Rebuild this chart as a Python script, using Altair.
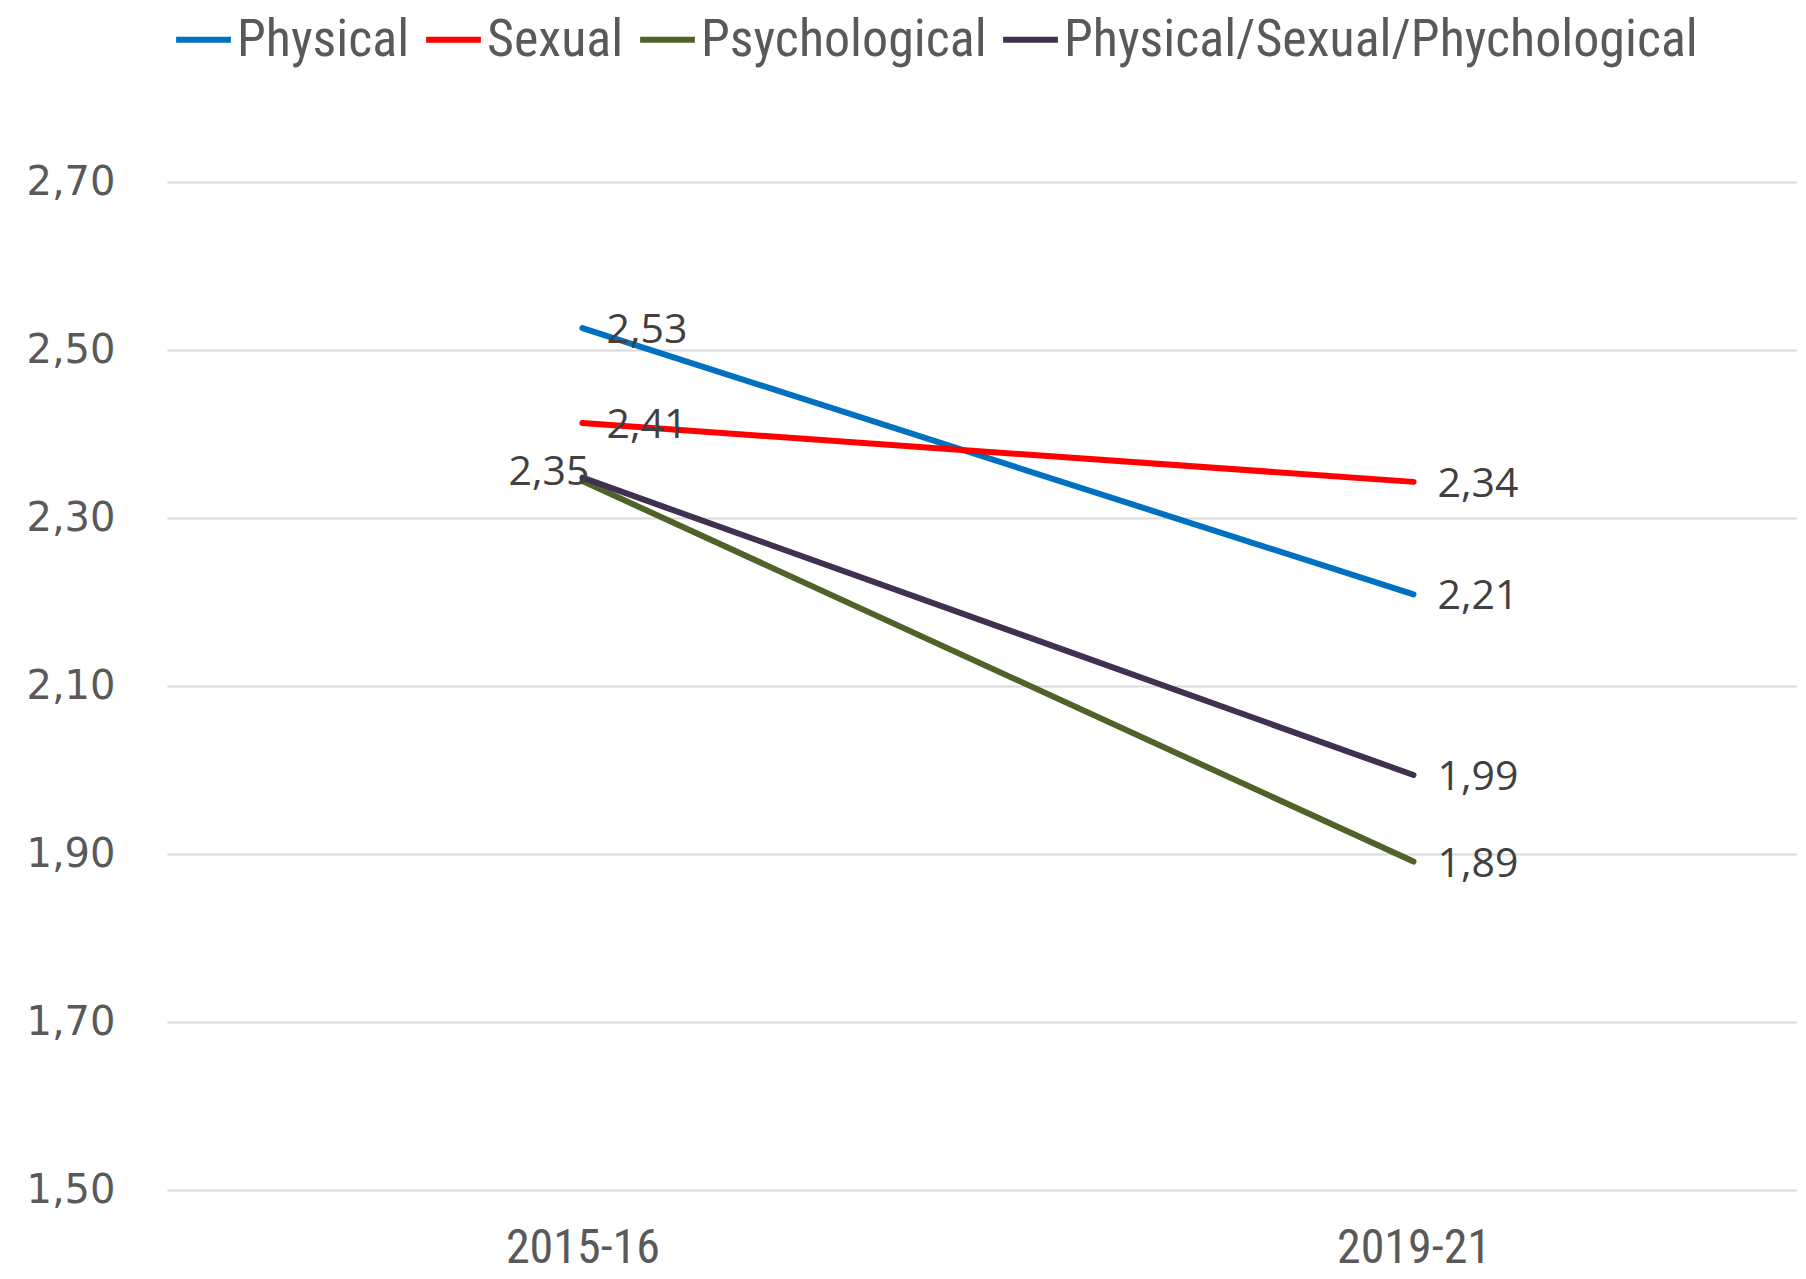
import altair as alt
import pandas as pd

periods = ["2015-16", "2019-21"]
series_names = ["Physical", "Sexual", "Psychological", "Physical/Sexual/Phychological"]
physical = [2.526, 2.209]
sexual = [2.413, 2.343]
psychological = [2.344, 1.891]
combined = [2.348, 1.994]
colors = ["#0070C0", "#FF0000", "#4F6228", "#403151"]
y_ticks = [1.5, 1.7, 1.9, 2.1, 2.3, 2.5, 2.7]

rows = []
for name, vals in zip(series_names, [physical, sexual, psychological, combined]):
    for p, v in zip(periods, vals):
        rows.append({"period": p, "series": name, "value": v})
df = pd.DataFrame(rows)

narrow = "Roboto Condensed, Liberation Sans Narrow, Liberation Sans"

x_enc = alt.X("period:O", sort=periods,
              scale=alt.Scale(type="point", padding=0.4807, align=0.52),
              axis=alt.Axis(title=None, labelAngle=0, labelFont=narrow, labelFontSize=48,
                            labelColor="#595959", labelPadding=58, labelBaseline="middle",
                            domain=False, ticks=False, grid=False))
y_enc = alt.Y("value:Q",
              scale=alt.Scale(domain=[1.5, 2.7], nice=False, zero=False),
              axis=alt.Axis(title=None, values=y_ticks, labelFont="DejaVu Sans", labelFontSize=40,
                            labelColor="#595959", labelPadding=52, domain=False, ticks=False,
                            grid=True, gridColor="#d9d9d9", gridWidth=2,
                            labelExpr="replace(format(datum.value, '.2f'), '.', ',')"))

color_enc = alt.Color("series:N", sort=series_names,
                      scale=alt.Scale(domain=series_names, range=colors),
                      legend=alt.Legend(title=None, orient="none", direction="horizontal",
                                        legendX=6, legendY=-173, columns=4,
                                        symbolType="stroke", symbolSize=3000, symbolStrokeWidth=6,
                                        labelFont=narrow, labelFontSize=52, labelColor="#595959",
                                        labelOffset=3, columnPadding=4, padding=0,
                                        labelLimit=1000))

base = alt.Chart(df)

lines = base.mark_line(strokeWidth=6, strokeCap="round").encode(
    x=x_enc, y=y_enc, color=color_enc, detail="series:N"
)

label_expr = "replace(format(datum.value, '.2f'), '.', ',')"

right_labels = base.transform_filter(
    "datum.period == '2019-21' || datum.series == 'Physical' || datum.series == 'Sexual'"
).transform_calculate(lbl=label_expr).mark_text(
    align="left", baseline="middle", dx=24, dy=3, font="Open Sans", fontSize=41, color="#404040"
).encode(x=alt.X("period:O", sort=periods), y="value:Q", text="lbl:N")

left_labels = base.transform_filter(
    "datum.period == '2015-16' && datum.series == 'Physical/Sexual/Phychological'"
).transform_calculate(lbl=label_expr).mark_text(
    align="right", baseline="middle", dx=7, dy=-5, font="Open Sans", fontSize=41, color="#404040"
).encode(x=alt.X("period:O", sort=periods), y="value:Q", text="lbl:N")

chart = alt.layer(lines, right_labels, left_labels).properties(
    width=1630, height=1008,
    autosize=alt.AutoSizeParams(type="none"),
    padding={"left": 159, "top": 174, "right": 0, "bottom": 88},
).configure_view(stroke=None)

chart.save("out.html", embed_options={"renderer": "svg", "actions": False})
